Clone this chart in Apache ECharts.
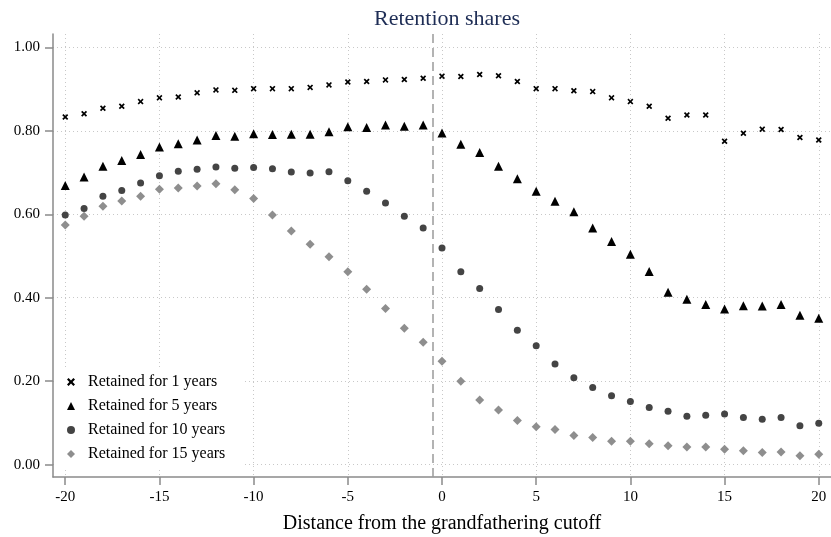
<!DOCTYPE html>
<html>
<head>
<meta charset="utf-8">
<script src="https://cdn.jsdelivr.net/npm/echarts@6/dist/echarts.min.js"></script>
<style>html,body{margin:0;padding:0;background:#fff}#c{width:831px;height:537px}</style>
</head>
<body>
<div id="c"></div>
<script>
const distance = [-20,-19,-18,-17,-16,-15,-14,-13,-12,-11,-10,-9,-8,-7,-6,-5,-4,-3,-2,-1,0,1,2,3,4,5,6,7,8,9,10,11,12,13,14,15,16,17,18,19,20];
const retained1 = [0.833,0.841,0.854,0.859,0.870,0.879,0.881,0.891,0.898,0.897,0.901,0.901,0.901,0.904,0.910,0.917,0.918,0.922,0.923,0.926,
  0.931,0.930,0.935,0.932,0.918,0.901,0.901,0.896,0.894,0.879,0.870,0.859,0.830,0.838,0.838,0.775,0.794,0.804,0.803,0.784,0.778];
const retained5 = [0.669,0.689,0.715,0.729,0.743,0.761,0.769,0.778,0.789,0.787,0.793,0.791,0.792,0.792,0.798,0.810,0.808,0.814,0.811,0.814,
  0.795,0.768,0.748,0.715,0.685,0.655,0.631,0.606,0.567,0.535,0.504,0.463,0.413,0.396,0.384,0.373,0.381,0.380,0.384,0.358,0.351];
const retained10 = [0.598,0.614,0.643,0.657,0.675,0.692,0.703,0.708,0.713,0.710,0.712,0.709,0.701,0.699,0.702,0.680,0.655,0.627,0.595,0.567,
  0.519,0.462,0.422,0.372,0.322,0.285,0.241,0.208,0.185,0.165,0.151,0.137,0.128,0.116,0.118,0.121,0.113,0.109,0.113,0.093,0.099];
const retained15 = [0.574,0.595,0.619,0.632,0.643,0.660,0.663,0.668,0.673,0.659,0.638,0.598,0.560,0.528,0.498,0.462,0.420,0.374,0.327,0.293,
  0.248,0.200,0.155,0.131,0.106,0.091,0.084,0.070,0.065,0.056,0.056,0.050,0.045,0.042,0.042,0.037,0.033,0.029,0.030,0.021,0.025];
const xTicks = [-20,-15,-10,-5,0,5,10,15,20];
const yTicks = [0,0.2,0.4,0.6,0.8,1.0];
const seriesNames = ['Retained for 1 years','Retained for 5 years','Retained for 10 years','Retained for 15 years'];
const cutoff = -0.5;

const FONT = '"Liberation Serif","DejaVu Serif",serif';
const crossPath = 'path://M0,2 L2,0 L5,3 L8,0 L10,2 L7,5 L10,8 L8,10 L5,7 L2,10 L0,8 L3,5 Z';
const styles = [
  {symbol: crossPath, size: 6, color: '#000000'},
  {symbol: 'triangle', size: 9, color: '#000000'},
  {symbol: 'circle', size: 7, color: '#444444'},
  {symbol: 'diamond', size: 9, color: '#8e8e8e'}
];
const allData = [retained1, retained5, retained10, retained15];

const series = allData.map((vals, i) => ({
  name: seriesNames[i],
  type: 'scatter',
  symbol: styles[i].symbol,
  symbolSize: styles[i].size,
  itemStyle: {color: styles[i].color, opacity: 1},
  data: distance.map((d, k) => [d, vals[k]]),
  z: 3
}));
series[0].markLine = {
  silent: true,
  symbol: ['none','none'],
  label: {show: false},
  lineStyle: {color: '#9a9a9a', type: [9, 5], width: 1.5},
  data: [{xAxis: cutoff}],
  z: 1
};

const chart = echarts.init(document.getElementById('c'), null, {renderer: 'canvas'});
chart.setOption({
  animation: false,
  backgroundColor: '#ffffff',
  textStyle: {fontFamily: FONT},
  title: {
    text: 'Retention shares',
    left: 442, top: 3, textAlign: 'center',
    textStyle: {fontFamily: FONT, fontSize: 22, fontWeight: 'normal', color: '#1e2d55'}
  },
  grid: {left: 53, right: 0, top: 34, bottom: 60, containLabel: false, outerBoundsMode: 'none'},
  xAxis: {
    type: 'value', min: -20.65, max: 20.65,
    name: 'Distance from the grandfathering cutoff',
    nameLocation: 'middle', nameGap: 37, nameMoveOverlap: false,
    nameTextStyle: {fontFamily: FONT, fontSize: 20, color: '#000'},
    axisLine: {show: true, onZero: false, lineStyle: {color: '#8a8a8a', width: 1.5}},
    axisTick: {show: true, length: 8, customValues: xTicks, lineStyle: {color: '#8a8a8a', width: 1.5}},
    axisLabel: {customValues: xTicks, fontFamily: FONT, fontSize: 15, color: '#000', margin: 13},
    splitLine: {show: true, lineStyle: {color: '#c8c8c8', type: [1, 3], width: 1}}
  },
  yAxis: {
    type: 'value', min: -0.0297, max: 1.032,
    axisLine: {show: true, onZero: false, lineStyle: {color: '#8a8a8a', width: 1.5}},
    axisTick: {show: true, length: 8, customValues: yTicks, lineStyle: {color: '#8a8a8a', width: 1.5}},
    axisLabel: {customValues: yTicks, fontFamily: FONT, fontSize: 15, color: '#000', margin: 13,
      formatter: v => v.toFixed(2)},
    splitLine: {show: true, lineStyle: {color: '#c8c8c8', type: [1, 3], width: 1}}
  },
  legend: {
    orient: 'vertical', left: 54, top: 370,
    backgroundColor: '#ffffff',
    padding: [4, 18, 6, 13],
    itemWidth: 8, itemHeight: 8, itemGap: 8,
    textStyle: {fontFamily: FONT, fontSize: 16, color: '#000', lineHeight: 16, padding: [0, 0, 0, 8]},
    data: seriesNames.map((n, i) => ({
      name: n,
      icon: styles[i].symbol,
      itemStyle: {color: styles[i].color}
    }))
  },
  series: series
});
</script>
</body>
</html>
